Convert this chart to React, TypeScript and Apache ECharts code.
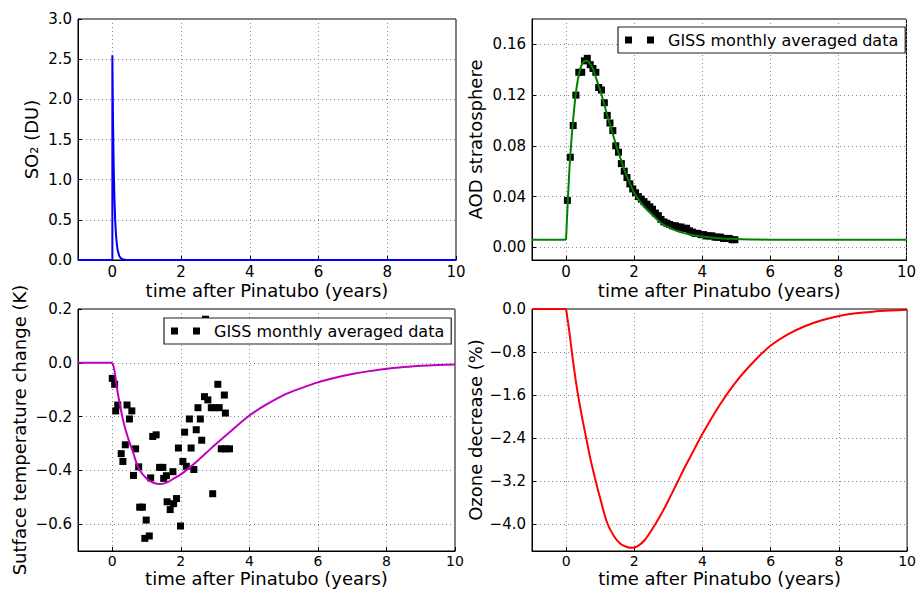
import React, { useEffect, useRef } from "react";
import * as echarts from "echarts";

const FONT = "DejaVu Sans";
const X_TITLE = "time after Pinatubo (years)";
const LEGEND_NAME = "GISS monthly averaged data";

const xTicks = [0, 2, 4, 6, 8, 10];
const so2Ticks = [0, 0.5, 1.0, 1.5, 2.0, 2.5, 3.0];
const aodTicks = [0, 0.04, 0.08, 0.12, 0.16];
const tempTicks = [-0.6, -0.4, -0.2, 0, 0.2];
const ozoneTicks = [-4.0, -3.2, -2.4, -1.6, -0.8, 0];

// SO2 model (DU)
const so2Model: [number, number][] = [
  [-1, 0], [0, 0], [0, 2.55], [0.02, 1.7], [0.04, 1.15], [0.06, 0.77], [0.08, 0.52],
  [0.1, 0.35], [0.12, 0.24], [0.15, 0.13], [0.2, 0.05], [0.25, 0.02], [0.3, 0.008],
  [0.4, 0.0], [10, 0.0],
];

// pre-eruption baselines (flat until t = 0)
const aodBaseline: [number, number][] = [[-1, 0.006], [0, 0.006]];
const tempBaseline: [number, number][] = [[-1, 0], [0, 0]];
const ozoneBaseline: [number, number][] = [[-1, 0], [0, 0]];

// AOD model after eruption
const aodModel: [number, number][] = [
  [0, 0.006], [0.1, 0.062], [0.2, 0.098], [0.3, 0.124], [0.4, 0.139],
  [0.5, 0.146], [0.6, 0.147], [0.7, 0.145], [0.8, 0.140], [0.9, 0.132],
  [1.0, 0.124], [1.1, 0.115], [1.2, 0.105], [1.3, 0.096], [1.4, 0.087], [1.5, 0.078],
  [1.6, 0.070], [1.7, 0.062], [1.8, 0.055], [1.9, 0.049], [2.0, 0.043], [2.2, 0.035],
  [2.4, 0.029], [2.6, 0.024], [2.8, 0.019], [3.0, 0.016], [3.25, 0.013], [3.5, 0.011],
  [3.75, 0.0095], [4.0, 0.0085], [4.5, 0.0072], [5.0, 0.0065], [5.5, 0.0062],
  [6.0, 0.006], [10, 0.006],
];

// AOD GISS monthly data
const aodData: [number, number][] = [
  [0.04, 0.037], [0.125, 0.071], [0.21, 0.096], [0.29, 0.120], [0.375, 0.138],
  [0.46, 0.138], [0.54, 0.147], [0.625, 0.149], [0.71, 0.144], [0.79, 0.141],
  [0.875, 0.138], [0.96, 0.126], [1.04, 0.124], [1.125, 0.114], [1.21, 0.104],
  [1.29, 0.098], [1.375, 0.092], [1.46, 0.080], [1.54, 0.075], [1.625, 0.066],
  [1.71, 0.060], [1.79, 0.055], [1.875, 0.050], [1.96, 0.046], [2.04, 0.043],
  [2.125, 0.040], [2.21, 0.038], [2.29, 0.036], [2.375, 0.034], [2.46, 0.032],
  [2.54, 0.030], [2.625, 0.027], [2.71, 0.025], [2.79, 0.022], [2.875, 0.020],
  [2.96, 0.019], [3.04, 0.018], [3.125, 0.017], [3.21, 0.017], [3.29, 0.016],
  [3.375, 0.016], [3.46, 0.015], [3.54, 0.015], [3.625, 0.013], [3.71, 0.012],
  [3.79, 0.011], [3.875, 0.011], [3.96, 0.010], [4.04, 0.010], [4.125, 0.009],
  [4.21, 0.009], [4.29, 0.009], [4.375, 0.008], [4.46, 0.008], [4.54, 0.008],
  [4.625, 0.007], [4.71, 0.007], [4.79, 0.007], [4.875, 0.006], [4.96, 0.006],
];

// Surface temperature model (K) after eruption
const tempModel: [number, number][] = [
  [0, 0], [0.05, -0.02], [0.1, -0.06], [0.15, -0.105], [0.2, -0.14],
  [0.3, -0.205], [0.4, -0.255], [0.5, -0.295], [0.6, -0.33], [0.7, -0.37], [0.8, -0.40],
  [1.0, -0.43], [1.2, -0.446], [1.4, -0.451], [1.6, -0.445], [1.8, -0.43], [2.0, -0.415],
  [2.25, -0.39], [2.5, -0.363], [2.75, -0.334], [3.0, -0.305], [3.5, -0.25], [4.0, -0.196],
  [4.5, -0.155], [5.0, -0.12], [5.5, -0.095], [6.0, -0.073], [6.5, -0.056], [7.0, -0.042],
  [7.5, -0.031], [8.0, -0.022], [8.5, -0.016], [9.0, -0.011], [9.5, -0.008], [10, -0.006],
];

// Surface temperature GISS monthly data
const tempData: [number, number][] = [
  [0.0, -0.058], [0.07, -0.08], [0.1, -0.179], [0.16, -0.157], [0.26, -0.338],
  [0.31, -0.367], [0.38, -0.305], [0.43, -0.157], [0.5, -0.209], [0.57, -0.179],
  [0.62, -0.419], [0.68, -0.32], [0.77, -0.387], [0.8, -0.537], [0.88, -0.537],
  [0.95, -0.653], [0.99, -0.585], [1.08, -0.644], [1.12, -0.428], [1.18, -0.274],
  [1.28, -0.268], [1.38, -0.389], [1.475, -0.389], [1.5, -0.43], [1.58, -0.42],
  [1.6, -0.517], [1.69, -0.546], [1.77, -0.405], [1.79, -0.524], [1.875, -0.505],
  [1.93, -0.317], [1.99, -0.607], [2.06, -0.367], [2.11, -0.258], [2.16, -0.385],
  [2.25, -0.209], [2.3, -0.317], [2.38, -0.397], [2.45, -0.249], [2.5, -0.167],
  [2.57, -0.209], [2.61, -0.288], [2.69, -0.126], [2.72, 0.162], [2.79, -0.138],
  [2.89, -0.167], [2.93, -0.487], [3.0, -0.167], [3.08, -0.08], [3.12, -0.167],
  [3.18, -0.32], [3.27, -0.12], [3.3, -0.187], [3.3, -0.32], [3.42, -0.32],
];

// Ozone model (%) after eruption
const ozoneModel: [number, number][] = [
  [0, 0], [0.1, -0.45], [0.2, -0.95], [0.3, -1.4], [0.4, -1.78], [0.5, -2.12],
  [0.6, -2.43], [0.7, -2.75], [0.8, -3.02], [0.9, -3.28], [1.0, -3.52], [1.2, -3.97],
  [1.4, -4.22], [1.6, -4.37], [1.8, -4.43], [1.95, -4.44], [2.1, -4.41], [2.3, -4.3],
  [2.5, -4.12], [2.75, -3.86], [3.0, -3.56], [3.25, -3.24], [3.5, -2.92], [3.75, -2.62],
  [4.0, -2.32], [4.5, -1.79], [5.0, -1.34], [5.5, -0.98], [6.0, -0.68], [6.5, -0.47],
  [7.0, -0.32], [7.5, -0.21], [8.0, -0.13], [8.5, -0.08], [9.0, -0.05], [9.5, -0.03],
  [10, -0.015],
];

const fmt = (d: number) => (v: number) =>
  (v < -1e-9 ? "\u2212" : "") + Math.abs(v).toFixed(d);

const splitLine = {
  show: true,
  lineStyle: { color: "#8a8a8a", type: [1, 3], width: 1 },
};

function makeX(gridIndex: number, margin: number, nameGap: number, labelSize: number) {
  return {
    type: "value",
    gridIndex,
    min: -1,
    max: 10,
    name: X_TITLE,
    nameLocation: "middle",
    nameGap,
    nameTextStyle: { fontFamily: FONT, fontSize: 18, color: "#000" },
    axisLine: { show: true, onZero: false, lineStyle: { color: "#000", width: 1 } },
    axisTick: {
      show: true,
      inside: true,
      length: 4,
      customValues: xTicks,
      lineStyle: { color: "#000" },
    },
    axisLabel: {
      customValues: xTicks,
      margin,
      fontFamily: FONT,
      fontSize: labelSize,
      lineHeight: labelSize,
      color: "#000",
      formatter: (v: number) => String(v),
    },
    splitLine,
  };
}

function makeY(
  gridIndex: number,
  min: number,
  max: number,
  ticks: number[],
  digits: number,
  name: string,
  nameGap: number
) {
  return {
    type: "value",
    gridIndex,
    min,
    max,
    name,
    nameLocation: "middle",
    nameGap,
    nameTextStyle: { fontFamily: FONT, fontSize: 18, color: "#000" },
    axisLine: { show: true, onZero: false, lineStyle: { color: "#000", width: 1 } },
    axisTick: {
      show: true,
      inside: true,
      length: 4,
      customValues: ticks,
      lineStyle: { color: "#000" },
    },
    axisLabel: {
      customValues: ticks,
      margin: 6,
      fontFamily: FONT,
      fontSize: 15,
      color: "#000",
      formatter: fmt(digits),
    },
    splitLine,
  };
}

function makeLegend(left: number, top: number) {
  return {
    left,
    top,
    orient: "horizontal",
    selectedMode: false,
    backgroundColor: "#fff",
    borderColor: "#222",
    borderWidth: 1.2,
    borderRadius: 0,
    padding: [5, 7, 5, 7],
    itemWidth: 29,
    itemHeight: 7,
    data: [{ name: LEGEND_NAME, icon: "path://M0,0h7v7h-7zM22,0h7v7h-7z" }],
    itemStyle: { color: "#000", opacity: 1 },
    textStyle: {
      fontFamily: FONT,
      fontSize: 16,
      color: "#000",
      padding: [0, 0, 0, 9],
    },
  };
}

function lineSeries(
  data: [number, number][],
  color: string,
  idx: number,
  smooth: number
) {
  return {
    type: "line",
    xAxisIndex: idx,
    yAxisIndex: idx,
    data,
    showSymbol: false,
    symbol: "none",
    smooth,
    clip: false,
    z: 3,
    lineStyle: { color, width: 2 },
    itemStyle: { color },
  };
}

function scatterSeries(data: [number, number][], idx: number) {
  return {
    type: "scatter",
    name: LEGEND_NAME,
    xAxisIndex: idx,
    yAxisIndex: idx,
    data,
    symbol: "rect",
    symbolSize: 7,
    z: 2,
    itemStyle: { color: "#000", opacity: 1 },
  };
}

export default function App() {
  const ref = useRef<HTMLDivElement>(null);
  useEffect(() => {
    if (!ref.current) return;
    const chart = echarts.init(ref.current, undefined, { renderer: "svg" });
    const gridBase = {
      show: true,
      borderColor: "#000",
      borderWidth: 1,
      backgroundColor: "transparent",
    };
    chart.setOption({
      animation: false,
      backgroundColor: "#fff",
      textStyle: { fontFamily: FONT },
      grid: [
        { ...gridBase, left: 78, top: 19, width: 378, height: 241 },
        { ...gridBase, left: 532, top: 19, width: 377, height: 241 },
        { ...gridBase, left: 78, top: 309, width: 377, height: 242 },
        { ...gridBase, left: 532, top: 309, width: 377, height: 242 },
      ],
      xAxis: [
        makeX(0, 4, 21, 15),
        makeX(1, 4, 21, 15),
        makeX(2, 3, 18, 14),
        makeX(3, 3, 18, 14),
      ],
      yAxis: [
        makeY(0, 0, 3, so2Ticks, 1, "SO\u2082 (DU)", 38),
        makeY(1, -0.01, 0.18, aodTicks, 2, "AOD stratosphere", 48),
        makeY(2, -0.7, 0.2, tempTicks, 1, "Sutface temperature change (K)", 50),
        makeY(3, -4.5, 0, ozoneTicks, 1, "Ozone decrease (%)", 48),
      ],
      legend: [makeLegend(618, 27), makeLegend(164, 318)],
      series: [
        lineSeries(so2Model, "#0000ff", 0, 0),
        scatterSeries(aodData, 1),
        lineSeries(aodBaseline, "#008000", 1, 0),
        lineSeries(aodModel, "#008000", 1, 0.3),
        scatterSeries(tempData, 2),
        lineSeries(tempBaseline, "#bf00bf", 2, 0),
        lineSeries(tempModel, "#bf00bf", 2, 0.3),
        lineSeries(ozoneBaseline, "#ff0000", 3, 0),
        lineSeries(ozoneModel, "#ff0000", 3, 0.3),
      ],
    });
    return () => chart.dispose();
  }, []);
  return (
    <div
      ref={ref}
      style={{ position: "absolute", left: 0, top: 0, width: 919, height: 589 }}
    />
  );
}
